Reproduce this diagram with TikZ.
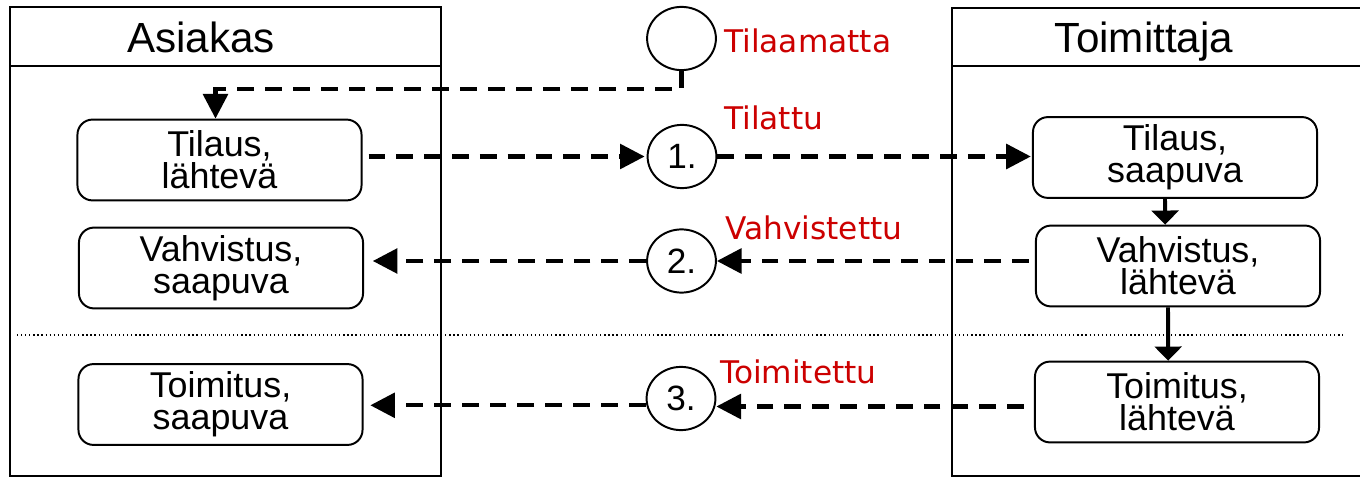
\documentclass[tikz,border=0pt]{standalone}
\usepackage{fontspec}
\setmainfont{Liberation Sans}
\newfontfamily\labelfont{DejaVu Sans}
\usetikzlibrary{arrows.meta,shapes.geometric}
\definecolor{statered}{RGB}{204,0,0}
\tikzset{
  panel/.style={line width=1.4pt},
  stepbox/.style={draw, line width=1.4pt, rounded corners=0.375cm,
    minimum width=7.1cm, minimum height=2.02cm, align=center, inner sep=0pt,
    font=\fontsize{25.5}{23}\selectfont},
  statecircle/.style={draw, ellipse, line width=1.4pt, inner sep=0pt,
    minimum width=1.72cm, minimum height=1.58cm,
    font=\fontsize{25}{25}\selectfont},
  heading/.style={anchor=base, font=\fontsize{30}{30}\selectfont},
  statelabel/.style={anchor=base west, text=statered, inner sep=0pt,
    font=\labelfont\fontsize{22.2}{22}\selectfont},
  flow/.style={line width=2.9pt, dash pattern=on 12pt off 7.8pt,
    -{Triangle[length=17.5pt,width=17.5pt]}},
  pass/.style={line width=2.8pt, -{Triangle[length=10pt,width=19pt]}}
}
\begin{document}
\begin{tikzpicture}[x=0.025cm, y=-0.025cm]
\useasboundingbox (0,0) rectangle (1360,478);
\clip (0,0) rectangle (1360,478);
\fill[white] (0,0) rectangle (1360,478);

% swimlanes
\draw[panel] (10,7) rectangle (441,476);
\draw[panel] (10,66) -- (441,66);
\draw[panel] (1370,8) -- (952,8) -- (952,476) -- (1370,476);
\draw[panel] (952,66) -- (1370,66);
\node[heading] (hA) at (201,53) {Asiakas};
\node[heading] (hT) at (1144,53) {Toimittaja};

% separator between order and delivery phases
\draw[dotted, line width=0.9pt] (17,335) -- (1343,335);

% customer side
\node[stepbox] (L1) at (219.5,160) {Tilaus,\\lähtevä};
\node[stepbox] (L2) at (221,268) {Vahvistus,\\saapuva};
\node[stepbox] (L3) at (220.5,404.5) {Toimitus,\\saapuva};

% supplier side
\node[stepbox] (R1) at (1175,157.5) {Tilaus,\\saapuva};
\node[stepbox] (R2) at (1178,266) {Vahvistus,\\lähtevä};
\node[stepbox] (R3) at (1177,402) {Toimitus,\\lähtevä};

% order states
\node[statecircle] (c0) at (681.5,38.5) {};
\node[statecircle] (c1) at (682,156.5) {1.};
\node[statecircle] (c2) at (681.5,261) {2.};
\node[statecircle] (c3) at (681,398.5) {3.};

\node[statelabel] (t0) at (724,53) {Tilaamatta};
\node[statelabel] (t1) at (724,130) {Tilattu};
\node[statelabel] (t2) at (725,239.5) {Vahvistettu};
\node[statelabel] (t3) at (720,383.5) {Toimitettu};

% message flows
\draw[flow] (c0.south) -- ++(0,18) -| ([xshift=-0.1cm]L1.north);
\draw[flow, shorten <=0.15cm, shorten >=0.05cm] (L1.east |- c1.west) -- (c1.west);
\draw[flow, shorten >=0.03cm] (c1.east) -- (c1.east -| R1.west);
\draw[flow, shorten <=0.15cm] (R2.west |- c2.east) -- (c2.east);
\draw[flow, shorten >=0.22cm] (c2.west) -- (c2.west -| L2.east);
\draw[flow, shorten <=0.25cm] ([yshift=-0.2cm]R3.west |- c3.east) -- ([yshift=-0.2cm]c3.east);
\draw[flow, shorten >=0.17cm] ([yshift=-0.17cm]c3.west) -- ([yshift=-0.17cm]c3.west -| L3.east);

% supplier internal steps
\draw[pass] ([xshift=-0.25cm]R1.south) -- ([xshift=-0.32cm]R2.north);
\draw[pass] ([xshift=-0.25cm]R2.south) -- ([xshift=-0.22cm]R3.north);
\end{tikzpicture}
\end{document}
